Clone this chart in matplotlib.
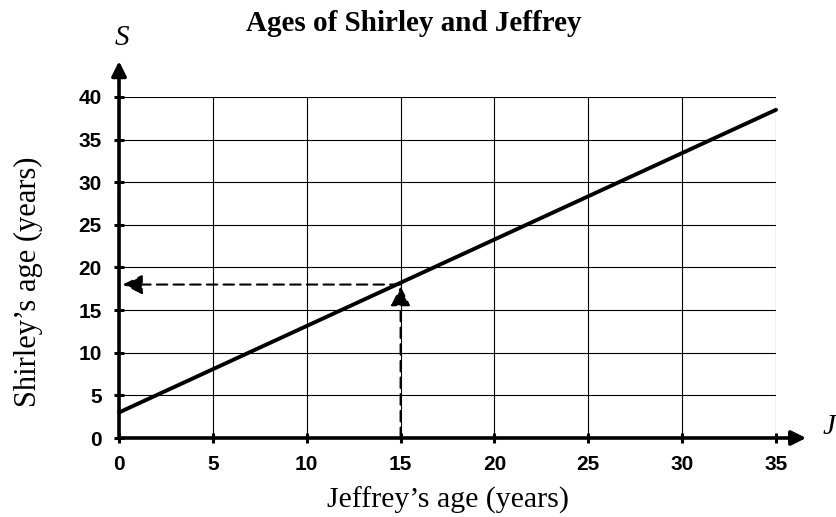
import numpy as np
import matplotlib
matplotlib.use("Agg")
from matplotlib import pyplot as plt

# data
jeffrey = [0, 35]
shirley = [3, 38.5]
read_j = 15
read_s = 18
x_ticks = [0, 5, 10, 15, 20, 25, 30, 35]
y_ticks = [0, 5, 10, 15, 20, 25, 30, 35, 40]

serif = ['Liberation Serif', 'DejaVu Serif']
sans = ['Liberation Sans', 'DejaVu Sans']

fig = plt.figure(figsize=(8.37, 5.17), dpi=100)
ax = fig.add_axes([0.1422, 0.1528, 0.785, 0.6596])

ax.set_xlim(0, 35)
ax.set_ylim(0, 40)
ax.set_xticks(x_ticks)
ax.set_yticks(y_ticks)
ax.grid(True, color='black', linewidth=0.8)
ax.set_axisbelow(True)

for side in ['top', 'right', 'left', 'bottom']:
	ax.spines[side].set_visible(False)

ax.tick_params(axis='both', direction='inout', length=7, width=2.2)
ax.tick_params(axis='x', pad=9)
ax.tick_params(axis='y', pad=9)
for lab in ax.get_xticklabels() + ax.get_yticklabels():
	lab.set_fontfamily(sans)
	lab.set_fontweight('bold')
	lab.set_fontsize(15)

# the line
ax.plot(jeffrey, shirley, color='black', linewidth=2.8, solid_capstyle='round', clip_on=False)

# axes drawn as arrows
arrow = dict(arrowstyle='-|>', color='black', lw=2.6, mutation_scale=22, shrinkA=0, shrinkB=0)
ax.annotate('', xy=(36.6, 0), xytext=(0, 0), arrowprops=arrow, annotation_clip=False)
ax.annotate('', xy=(0, 44.2), xytext=(0, 0), arrowprops=arrow, annotation_clip=False)

# reading off at J = 15
dash = dict(arrowstyle='-|>', color='black', lw=1.5, linestyle=(0, (5, 3)), mutation_scale=30, shrinkA=0, shrinkB=0)
ax.annotate('', xy=(read_j, read_s - 0.2), xytext=(read_j, 0), arrowprops=dash, annotation_clip=False)
ax.annotate('', xy=(0.2, read_s), xytext=(read_j, read_s), arrowprops=dash, annotation_clip=False)

ax.set_xlabel("Jeffrey\u2019s age (years)", family=serif, fontsize=21.5)
ax.set_ylabel("Shirley\u2019s age (years)", family=serif, fontsize=22)
ax.xaxis.set_label_coords(0.5, -0.182)
ax.yaxis.set_label_coords(-0.1385, 0.457)
ax.xaxis.label.set_va('center')
ax.yaxis.label.set_va('center')

fig.text(0.494, 0.955, "Ages of Shirley and Jeffrey", family=serif, fontweight='bold',
	fontsize=21, ha='center', va='center')
fig.text(0.146, 0.927, "S", family=serif, style='italic', fontsize=21, ha='center', va='center')
fig.text(0.99, 0.174, "J", family=serif, style='italic', fontsize=21, ha='center', va='center')

fig.savefig("out.png", dpi=100)
